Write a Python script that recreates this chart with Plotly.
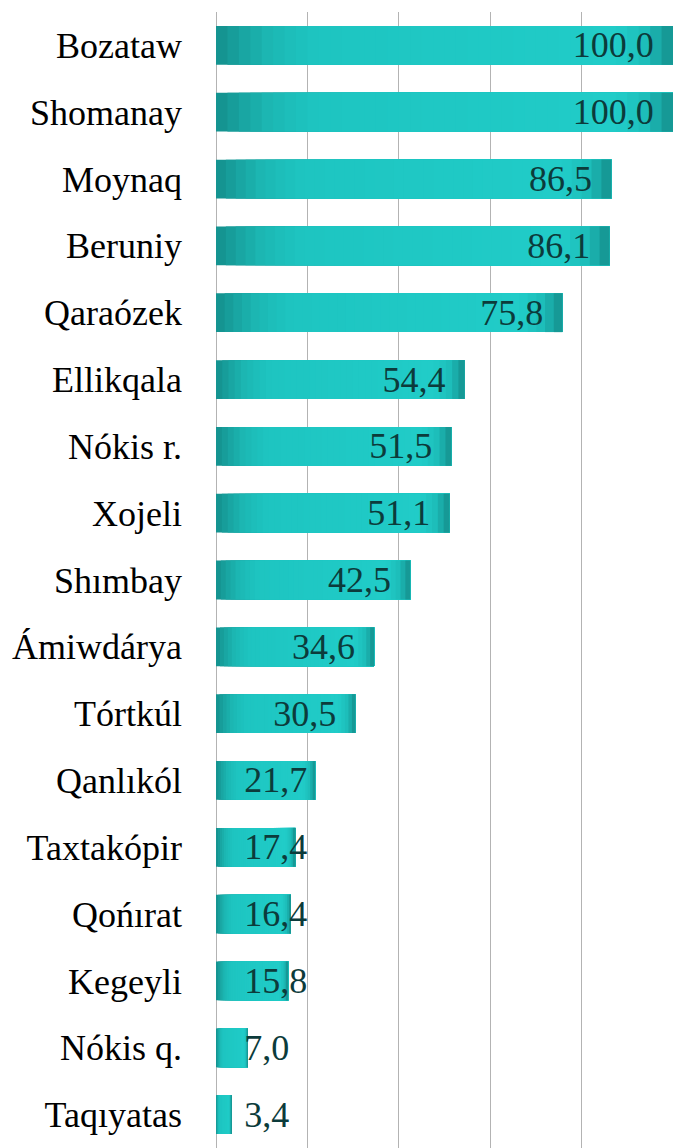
import plotly.graph_objects as go

districts = ["Bozataw", "Shomanay", "Moynaq", "Beruniy", "Qaraózek", "Ellikqala",
             "Nókis r.", "Xojeli", "Shımbay", "Ámiwdárya", "Tórtkúl", "Qanlıkól",
             "Taxtakópir", "Qońırat", "Kegeyli", "Nókis q.", "Taqıyatas"]
values = [100.0, 100.0, 86.5, 86.1, 75.8, 54.4, 51.5, 51.1, 42.5, 34.6, 30.5,
          21.7, 17.4, 16.4, 15.8, 7.0, 3.4]

SERIF = "Times New Roman"
FS = 36
TEXT_COLOR = "#0c3b3b"
BAR_W = 0.58

# gradient stops along each bar (fraction of bar length -> colour)
stops = [(0.00, (0x14, 0x8f, 0x8c)), (0.05, (0x18, 0xa2, 0x9f)), (0.12, (0x1c, 0xb8, 0xb4)),
         (0.22, (0x1e, 0xc5, 0xc1)), (0.60, (0x1f, 0xc9, 0xc5)), (0.88, (0x21, 0xcc, 0xc8)),
         (0.94, (0x1d, 0xbd, 0xb9)), (0.975, (0x18, 0xa4, 0xa1)), (1.00, (0x14, 0x8d, 0x8a))]


def colour_at(f):
    for (f0, c0), (f1, c1) in zip(stops[:-1], stops[1:]):
        if f0 <= f <= f1:
            t = (f - f0) / (f1 - f0) if f1 > f0 else 0
            return "rgb(%d,%d,%d)" % tuple(round(a + (b - a) * t) for a, b in zip(c0, c1))
    return "rgb(%d,%d,%d)" % stops[-1][1]


N = 40
fig = go.Figure()
for i in range(N):
    f0 = i / N
    # each layer starts further along the bar and runs to its end, covering the previous one
    fig.add_trace(go.Bar(
        y=districts, x=[v * (1 - f0) for v in values], base=[v * f0 for v in values],
        orientation="h", width=BAR_W,
        marker=dict(color=colour_at(f0 + 0.5 / N), line=dict(width=0)),
        hoverinfo="skip", cliponaxis=True,
    ))

# value labels: right-aligned inside the end of long bars, left-aligned at the start of short ones
long_y = [d for d, v in zip(districts, values) if v >= 25]
long_x = [v for v in values if v >= 25]
short_y = [d for d, v in zip(districts, values) if v < 25]
short_x = [v for v in values if v < 25]

fig.add_trace(go.Bar(
    y=long_y, x=long_x, orientation="h", width=BAR_W,
    marker=dict(color="rgba(0,0,0,0)", line=dict(width=0)),
    texttemplate="%{x:.1f}\u00a0\u2009", textposition="inside", insidetextanchor="end",
    textangle=0, textfont=dict(family=SERIF, size=FS, color=TEXT_COLOR),
    cliponaxis=False, hoverinfo="skip",
))
fig.add_trace(go.Bar(
    y=short_y, x=short_x, orientation="h", width=BAR_W,
    marker=dict(color="rgba(0,0,0,0)", line=dict(width=0)),
    texttemplate="\u00a0\u00a0\u2009%{x:.1f}", textposition="inside", insidetextanchor="start",
    textangle=0, textfont=dict(family=SERIF, size=FS, color=TEXT_COLOR),
    cliponaxis=False, hoverinfo="skip",
))

fig.update_layout(
    width=673, height=1148,
    margin=dict(l=216, r=0, t=12, b=0),
    plot_bgcolor="white", paper_bgcolor="white",
    separators=", ",
    showlegend=False,
    barmode="overlay",
    uniformtext=dict(minsize=FS, mode="show"),
)
fig.update_xaxes(range=[0, 100], showgrid=True, gridcolor="#b3b3b3", gridwidth=1,
                 dtick=20, showticklabels=False, zeroline=True, zerolinecolor="#b3b3b3",
                 zerolinewidth=1, showline=False, ticks="")
fig.update_yaxes(categoryorder="array", categoryarray=districts, autorange="reversed",
                 showgrid=False, ticks="", ticklabelstandoff=33,
                 tickfont=dict(family=SERIF, size=FS, color="black"))
fig.write_html("out.html", config={"displayModeBar": False},
               post_script="document.body.style.margin='0';")
